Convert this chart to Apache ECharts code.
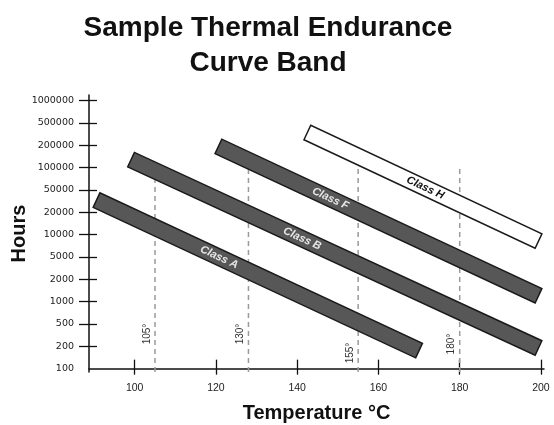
<!DOCTYPE html>
<html>
<head>
<meta charset="utf-8">
<script src="https://cdn.jsdelivr.net/npm/echarts@6/dist/echarts.min.js"></script>
<style>
  html, body { margin: 0; padding: 0; background: #fff; }
  #main { width: 554px; height: 425px; }
</style>
</head>
<body>
<div id="main"></div>
<script>
// tick labels of the hours axis (evenly spaced 1-2-5 steps)
const yTicks = [100, 200, 500, 1000, 2000, 5000, 10000, 20000, 50000, 100000, 200000, 500000, 1000000];
const xTicks = [100, 120, 140, 160, 180, 200];

// endurance bands: start / end point of each band
const bandNames = ['Class A', 'Class B', 'Class F', 'Class H'];
const bandStartTemp = [90.6, 99.1, 120.6, 142.5];
const bandStartHours = [33000, 128000, 193000, 337000];
const bandEndTemp = [170.0, 199.4, 199.4, 199.4];
const bandEndHours = [175, 190, 1200, 8200];

// class temperature markers
const classTemps = [105, 128, 155, 180];
const classTempLabels = ['105°', '130°', '155°', '180°'];
const classLineTopHours = 100000;

// styling / layout helpers
const bandFill = ['#575757', '#575757', '#575757', '#ffffff'];
const bandText = ['#e6e6e6', '#e6e6e6', '#e6e6e6', '#111111'];
const bandLabelAt = [0.38, 0.42, 0.35, 0.51];
const classLabelIdx = [1.55, 1.55, 0.7, 1.1];
const Y_MIN = -0.15, Y_MAX = 12.25;

// hours -> position on the evenly spaced 1-2-5 axis
function pos(h) {
  for (let i = 0; i < yTicks.length - 1; i++) {
    if (h <= yTicks[i + 1]) {
      return i + Math.log(h / yTicks[i]) / Math.log(yTicks[i + 1] / yTicks[i]);
    }
  }
  return yTicks.length - 1;
}

const bandData = bandNames.map((n, i) => [
  bandStartTemp[i], pos(bandStartHours[i]), bandEndTemp[i], pos(bandEndHours[i]), i
]);
const classData = classTemps.map((t, i) => [t, pos(classLineTopHours), classLabelIdx[i], i]);

const chart = echarts.init(document.getElementById('main'));

chart.setOption({
  animation: false,
  title: {
    text: 'Sample Thermal Endurance\nCurve Band',
    left: 263,
    top: 6,
    textAlign: 'center',
    textStyle: {
      fontFamily: 'Liberation Sans',
      fontWeight: 'bold',
      fontSize: 28,
      lineHeight: 35,
      color: '#111'
    }
  },
  grid: { left: 89, right: 10, top: 95, bottom: 53, outerBoundsMode: 'none' },
  xAxis: [
    {
      type: 'value', min: 88.75, max: 200.75,
      name: 'Temperature °C', nameLocation: 'middle', nameGap: 31, nameMoveOverlap: false,
      nameTextStyle: { fontFamily: 'Liberation Sans', fontWeight: 'bold', fontSize: 20, color: '#111' },
      axisLine: { lineStyle: { color: '#111', width: 1.5 } },
      axisTick: { length: 6, lineStyle: { color: '#111', width: 1.3 }, customValues: xTicks },
      axisLabel: { customValues: xTicks, margin: 11, fontFamily: 'Liberation Sans', fontSize: 10.5, color: '#222' },
      splitLine: { show: false }
    },
    {
      type: 'value', min: 88.75, max: 200.75, position: 'bottom',
      axisLine: { show: false },
      axisTick: { inside: true, length: 9, lineStyle: { color: '#111', width: 1.3 }, customValues: xTicks },
      axisLabel: { show: false },
      splitLine: { show: false }
    }
  ],
  yAxis: [
    {
      type: 'value', min: Y_MIN, max: Y_MAX,
      name: 'Hours', nameLocation: 'middle', nameRotate: 90, nameGap: 60, nameMoveOverlap: false,
      nameTextStyle: { fontFamily: 'Liberation Sans', fontWeight: 'bold', fontSize: 20, color: '#111' },
      axisLine: { show: true, lineStyle: { color: '#111', width: 1.5 } },
      axisTick: { show: true, length: 10, lineStyle: { color: '#111', width: 1.3 },
        customValues: yTicks.slice(1).map((v, i) => i + 1) },
      axisLabel: {
        customValues: yTicks.map((v, i) => i), margin: 15,
        fontFamily: 'DejaVu Sans', fontSize: 9.5, color: '#1a1a1a',
        formatter: v => String(yTicks[Math.round(v)])
      },
      splitLine: { show: false }
    },
    {
      type: 'value', min: Y_MIN, max: Y_MAX, position: 'left',
      axisLine: { show: false },
      axisTick: { show: true, inside: true, length: 8, lineStyle: { color: '#111', width: 1.3 },
        customValues: yTicks.slice(1).map((v, i) => i + 1) },
      axisLabel: { show: false },
      splitLine: { show: false }
    }
  ],
  series: [
    {
      type: 'custom',
      name: 'class temps',
      xAxisIndex: 0, yAxisIndex: 0,
      encode: { x: 0, y: 1 },
      data: classData,
      renderItem: function (params, api) {
        const x = api.value(0);
        const top = api.coord([x, api.value(1)]);
        const bot = api.coord([x, Y_MIN]);
        const lab = api.coord([x, api.value(2)]);
        const i = api.value(3);
        return {
          type: 'group',
          children: [
            {
              type: 'line',
              shape: { x1: bot[0], y1: bot[1], x2: top[0], y2: top[1] },
              style: { stroke: '#9a9a9a', lineWidth: 1.5, lineDash: [5, 4] }
            },
            {
              type: 'text',
              x: lab[0] - 8, y: lab[1],
              rotation: Math.PI / 2,
              style: {
                text: classTempLabels[i],
                font: '10px "Liberation Sans"',
                fill: '#333',
                align: 'center',
                verticalAlign: 'middle'
              }
            }
          ]
        };
      }
    },
    {
      type: 'custom',
      name: 'bands',
      xAxisIndex: 0, yAxisIndex: 0,
      encode: { x: [0, 2], y: [1, 3] },
      data: bandData,
      renderItem: function (params, api) {
        const p1 = api.coord([api.value(0), api.value(1)]);
        const p2 = api.coord([api.value(2), api.value(3)]);
        const i = api.value(4);
        const dx = p2[0] - p1[0], dy = p2[1] - p1[1];
        const len = Math.sqrt(dx * dx + dy * dy);
        const hw = 8;
        const nx = -dy / len * hw, ny = dx / len * hw;
        const t = bandLabelAt[i];
        return {
          type: 'group',
          children: [
            {
              type: 'polygon',
              shape: {
                points: [
                  [p1[0] + nx, p1[1] + ny],
                  [p2[0] + nx, p2[1] + ny],
                  [p2[0] - nx, p2[1] - ny],
                  [p1[0] - nx, p1[1] - ny]
                ]
              },
              style: { fill: bandFill[i], stroke: '#1a1a1a', lineWidth: 1.5 }
            },
            {
              type: 'text',
              x: p1[0] + dx * t, y: p1[1] + dy * t,
              rotation: -Math.atan2(dy, dx),
              style: {
                text: bandNames[i],
                font: 'italic bold 11px "Liberation Sans"',
                fill: bandText[i],
                align: 'center',
                verticalAlign: 'middle'
              }
            }
          ]
        };
      }
    }
  ]
});
</script>
</body>
</html>
